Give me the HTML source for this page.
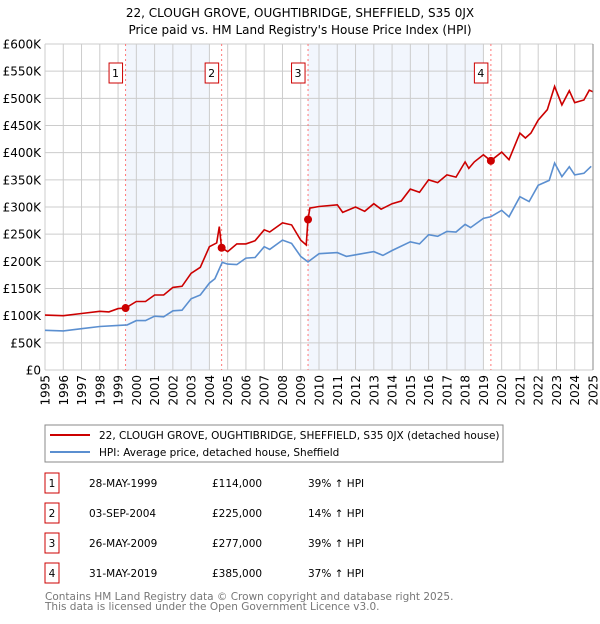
<!DOCTYPE html>
<html><head><meta charset="utf-8"><style>
body{margin:0;background:#fff;width:600px;height:620px;overflow:hidden;font-family:"DejaVu Sans","Liberation Sans",sans-serif}
svg text{font-family:"DejaVu Sans","Liberation Sans",sans-serif}
</style></head><body>
<svg id="chart" width="600" height="620" viewBox="0 0 600 620">
<text x="300" y="17" text-anchor="middle" font-size="12">22, CLOUGH GROVE, OUGHTIBRIDGE, SHEFFIELD, S35 0JX</text>
<text x="300" y="34" text-anchor="middle" font-size="12">Price paid vs. HM Land Registry's House Price Index (HPI)</text>
<g id="plot"></g>
<rect x="45" y="425" width="458" height="37" fill="#fff" stroke="#888"/>
<line x1="50" y1="435" x2="90" y2="435" stroke="#cc0000" stroke-width="2"/>
<text x="99" y="439" font-size="10.5">22, CLOUGH GROVE, OUGHTIBRIDGE, SHEFFIELD, S35 0JX (detached house)</text>
<line x1="50" y1="452" x2="90" y2="452" stroke="#5b8fd0" stroke-width="2"/>
<text x="99" y="456" font-size="10.5">HPI: Average price, detached house, Sheffield</text>
<g id="table" font-size="10.5"></g>
<text x="45" y="600" font-size="10.5" fill="#777">Contains HM Land Registry data © Crown copyright and database right 2025.</text>
<text x="45" y="610" font-size="10.5" fill="#777">This data is licensed under the Open Government Licence v3.0.</text>
</svg>
<script>
const yTicks=[0,50,100,150,200,250,300,350,400,450,500,550,600];
const yTickLabels=["£0","£50K","£100K","£150K","£200K","£250K","£300K","£350K","£400K","£450K","£500K","£550K","£600K"];
const xYears=[1995,1996,1997,1998,1999,2000,2001,2002,2003,2004,2005,2006,2007,2008,2009,2010,2011,2012,2013,2014,2015,2016,2017,2018,2019,2020,2021,2022,2023,2024,2025];
const hpiDates=[1995,1996,1997,1998,1999,1999.5,2000,2000.5,2001,2001.5,2002,2002.5,2003,2003.5,2004,2004.3,2004.7,2005,2005.5,2006,2006.5,2007,2007.3,2008,2008.5,2009,2009.4,2010,2011,2011.5,2012,2013,2013.5,2014,2015,2015.5,2016,2016.5,2017,2017.5,2018,2018.3,2019,2019.4,2020,2020.4,2021,2021.5,2022,2022.6,2022.9,2023.3,2023.7,2024,2024.5,2024.9];
const hpiValues=[73,72,76,80,82,83,91,91,99,98,109,110,131,138,160,168,198,195,194,206,207,227,222,239,233,209,199,214,216,209,212,218,211,220,236,232,249,246,255,254,268,262,279,282,294,282,319,310,340,349,381,356,374,359,362,375];
const ppDates=[1995,1996,1997,1998,1998.5,1999,1999.4,2000,2000.5,2001,2001.5,2002,2002.5,2003,2003.5,2004,2004.4,2004.54,2004.67,2005,2005.5,2006,2006.5,2007,2007.3,2008,2008.5,2009,2009.3,2009.4,2009.5,2010,2011,2011.3,2012,2012.5,2013,2013.4,2014,2014.5,2015,2015.5,2016,2016.5,2017,2017.5,2018,2018.2,2018.5,2019,2019.4,2020,2020.4,2021,2021.3,2021.6,2022,2022.5,2022.9,2023.3,2023.7,2024,2024.5,2024.8,2025];
const ppValues=[101,100,104,108,107,113,114,126,126,138,138,152,154,178,189,227,234,264,225,218,232,232,238,258,254,271,267,239,230,277,298,301,304,290,300,292,306,296,306,311,333,327,350,345,359,355,383,371,383,396,385,401,387,436,427,436,460,479,522,488,514,492,497,515,512];
const saleDates=[1999.41,2004.67,2009.4,2019.41];
const saleValues=[114,225,277,385];
const saleLabels=["1","2","3","4"];
const saleDateText=["28-MAY-1999","03-SEP-2004","26-MAY-2009","31-MAY-2019"];
const salePriceText=["£114,000","£225,000","£277,000","£385,000"];
const saleHpiText=["39% ↑ HPI","14% ↑ HPI","39% ↑ HPI","37% ↑ HPI"];
const shadeEnds=[2004,2019];

const X0=45,X1=593,Y0=370,Y1=44;
const xs=d=>X0+(d-1995)*(X1-X0)/30;
const ys=v=>Y0-v*(Y0-Y1)/600;
const NS="http://www.w3.org/2000/svg";
const plot=document.getElementById('plot');
function mk(tag,attrs,parent){const e=document.createElementNS(NS,tag);for(const k in attrs)e.setAttribute(k,attrs[k]);(parent||plot).appendChild(e);return e;}

[[saleDates[0],shadeEnds[0]],[saleDates[2],shadeEnds[1]]].forEach((s,i)=>{
 const r=mk('rect',{x:xs(s[0]),y:Y1,width:xs(s[1])-xs(s[0]),height:Y0-Y1,fill:'#f2f6fd'});
 
 
});
yTicks.forEach((t,i)=>{
 const l=mk('line',{x1:X0,x2:X1,y1:ys(t),y2:ys(t),stroke:'#ccc'});
 
 
 const tx=mk('text',{x:X0-4,y:ys(t)+4.5,'text-anchor':'end','font-size':12});
 tx.textContent=yTickLabels[i];
 
 
});
xYears.forEach(yr=>{
 const l=mk('line',{x1:xs(yr),x2:xs(yr),y1:Y1,y2:Y0,stroke:'#ccc'});
 
 
 const tx=mk('text',{x:0,y:0,'text-anchor':'end','font-size':12,transform:`translate(${xs(yr)+4.5},${Y0+5}) rotate(-90)`});
 tx.textContent=yr;
 
 
});
saleDates.forEach((d,i)=>{
 const l=mk('line',{x1:xs(d),x2:xs(d),y1:Y1,y2:Y0,stroke:'#ff7777','stroke-dasharray':'2,3'});
 
 
 const r=mk('rect',{x:xs(d)-6.5-10,y:63,width:13.5,height:20,fill:'#fff',stroke:'#cc0000'});
 
 
 const t=mk('text',{x:xs(d)-10,y:77,'text-anchor':'middle','font-size':11});
 t.textContent=saleLabels[i];
 
 
});
function path(ds,vs){return ds.map((d,i)=>(i?'L':'M')+xs(d).toFixed(1)+','+ys(vs[i]).toFixed(1)).join('');}
const hp=mk('path',{d:path(hpiDates,hpiValues),fill:'none',stroke:'#5b8fd0','stroke-width':1.6});


const pp=mk('path',{d:path(ppDates,ppValues),fill:'none',stroke:'#cc0000','stroke-width':1.6});


saleDates.forEach((d,i)=>{
 const c=mk('circle',{cx:xs(d),cy:ys(saleValues[i]),r:4,fill:'#cc0000'});
 
 
});
mk('line',{x1:X1,x2:X1,y1:Y1,y2:Y0,stroke:'#888'});
const tb=document.getElementById('table');
saleLabels.forEach((lab,i)=>{
 const cy=483+i*30;
 const r=mk('rect',{x:45,y:cy-10,width:14,height:20,fill:'#fff',stroke:'#cc0000'},tb);
 
 
 const cells=[[52,lab,'middle','table-label'],[89,saleDateText[i],'start','table-date'],[212,salePriceText[i],'start','table-price'],[308,saleHpiText[i],'start','table-hpi-change']];
 cells.forEach(c=>{
  const t=mk('text',{x:c[0],y:cy+4,'text-anchor':c[2]},tb);
  t.textContent=c[1];
  
  
 });
});
</script>
</body></html>
